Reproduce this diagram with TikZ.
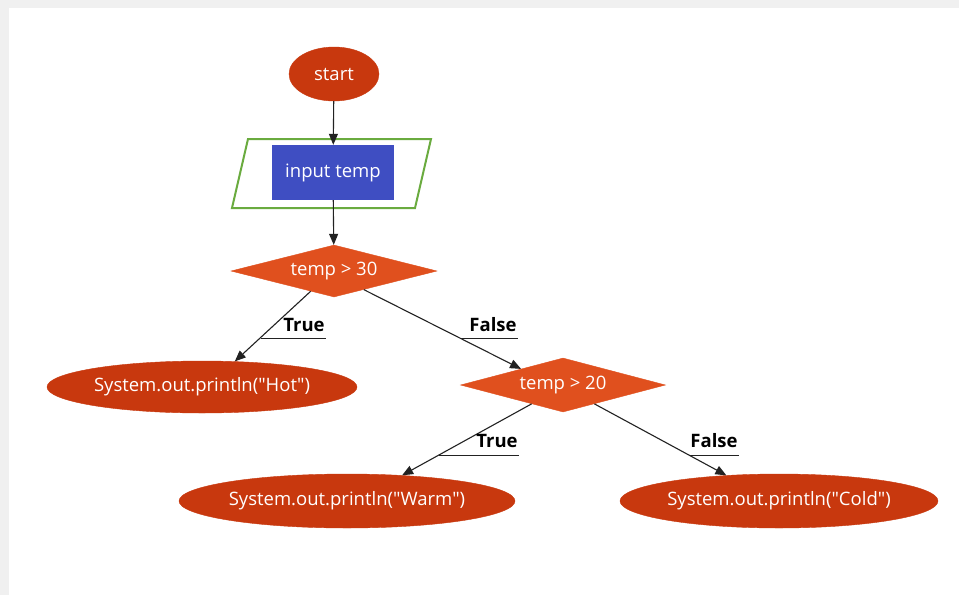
\documentclass[tikz,border=0pt]{standalone}
\usepackage{fontspec}
\setmainfont{Open Sans}
\usetikzlibrary{shapes.geometric,arrows.meta}
\definecolor{frame}{HTML}{F0F0F0}
\definecolor{ellfill}{HTML}{C8380E}
\definecolor{diafill}{HTML}{E0501E}
\definecolor{boxblue}{HTML}{3F4EC2}
\definecolor{pargreen}{HTML}{6AAB3F}
\definecolor{edgecol}{HTML}{222222}
\tikzset{
  term/.style={ellipse, fill=ellfill, draw=ellfill, inner sep=0pt, text=white,
    font=\fontsize{18.5}{21}\selectfont},
  decide/.style={diamond, aspect=4, fill=diafill, draw=diafill, inner sep=0pt, text=white,
    font=\fontsize{18.5}{21}\selectfont},
  iobox/.style={rectangle, fill=boxblue, inner sep=0pt, text=white,
    minimum width=122pt, minimum height=55pt, font=\fontsize{18.5}{21}\selectfont},
  flow/.style={draw=edgecol, line width=1.1pt, -{Triangle[length=11pt,width=9pt]}},
  elabel/.style={font=\bfseries\fontsize{18.5}{21}\selectfont, text=black, inner sep=1pt},
  uline/.style={draw=edgecol, line width=1pt}
}
\begin{document}
\begin{tikzpicture}[x=1pt,y=-1pt]
\useasboundingbox (0,0) rectangle (959,595);
\fill[frame] (0,0) rectangle (959,595);
\fill[white] (9,8) rectangle (959,595);

% nodes
\node[term, minimum width=90pt, minimum height=54pt] (start) at (334,74) {start};
\draw[pargreen, line width=2pt] (248,139) -- (431,139) -- (415,208) -- (232,208) -- cycle;
\node[iobox] (input) at (333,172.5) {input temp};
\node[decide, minimum width=206pt, minimum height=52pt] (d1) at (334,271) {temp > 30};
\node[term, minimum width=310pt, minimum height=52pt] (hot) at (202,387) {System.out.println(\textquotedbl Hot\textquotedbl)};
\node[decide, minimum width=205pt, minimum height=54pt] (d2) at (563,385) {temp > 20};
\node[term, minimum width=336pt, minimum height=54pt] (warm) at (347,501) {System.out.println(\textquotedbl Warm\textquotedbl)};
\node[term, minimum width=318pt, minimum height=54pt] (cold) at (779,501) {System.out.println(\textquotedbl Cold\textquotedbl)};

% connectors
\draw[flow] (start) -- (input);
\draw[flow] (input) -- (d1);
\draw[flow] (d1.221) -- (hot.38);
\draw[flow] (d1.328.5) -- (d2.159);
\draw[flow] (d2.211) -- (warm.25);
\draw[flow] (d2.329.5) -- (cold.154);

% edge labels with underlines
\node[elabel] (t1) at (304,325) {True};
\coordinate (t1u) at (261,338);
\draw[uline] (t1u) -- (t1u -| t1.east);

\node[elabel] (f1) at (493,325) {False};
\coordinate (f1u) at (461,338);
\draw[uline] (f1u) -- (f1u -| f1.east);

\node[elabel] (t2) at (497,441) {True};
\coordinate (t2u) at (439,455);
\draw[uline] (t2u) -- (t2u -| t2.east);

\node[elabel] (f2) at (714,441) {False};
\coordinate (f2u) at (689,455);
\draw[uline] (f2u) -- (f2u -| f2.east);
\end{tikzpicture}
\end{document}
